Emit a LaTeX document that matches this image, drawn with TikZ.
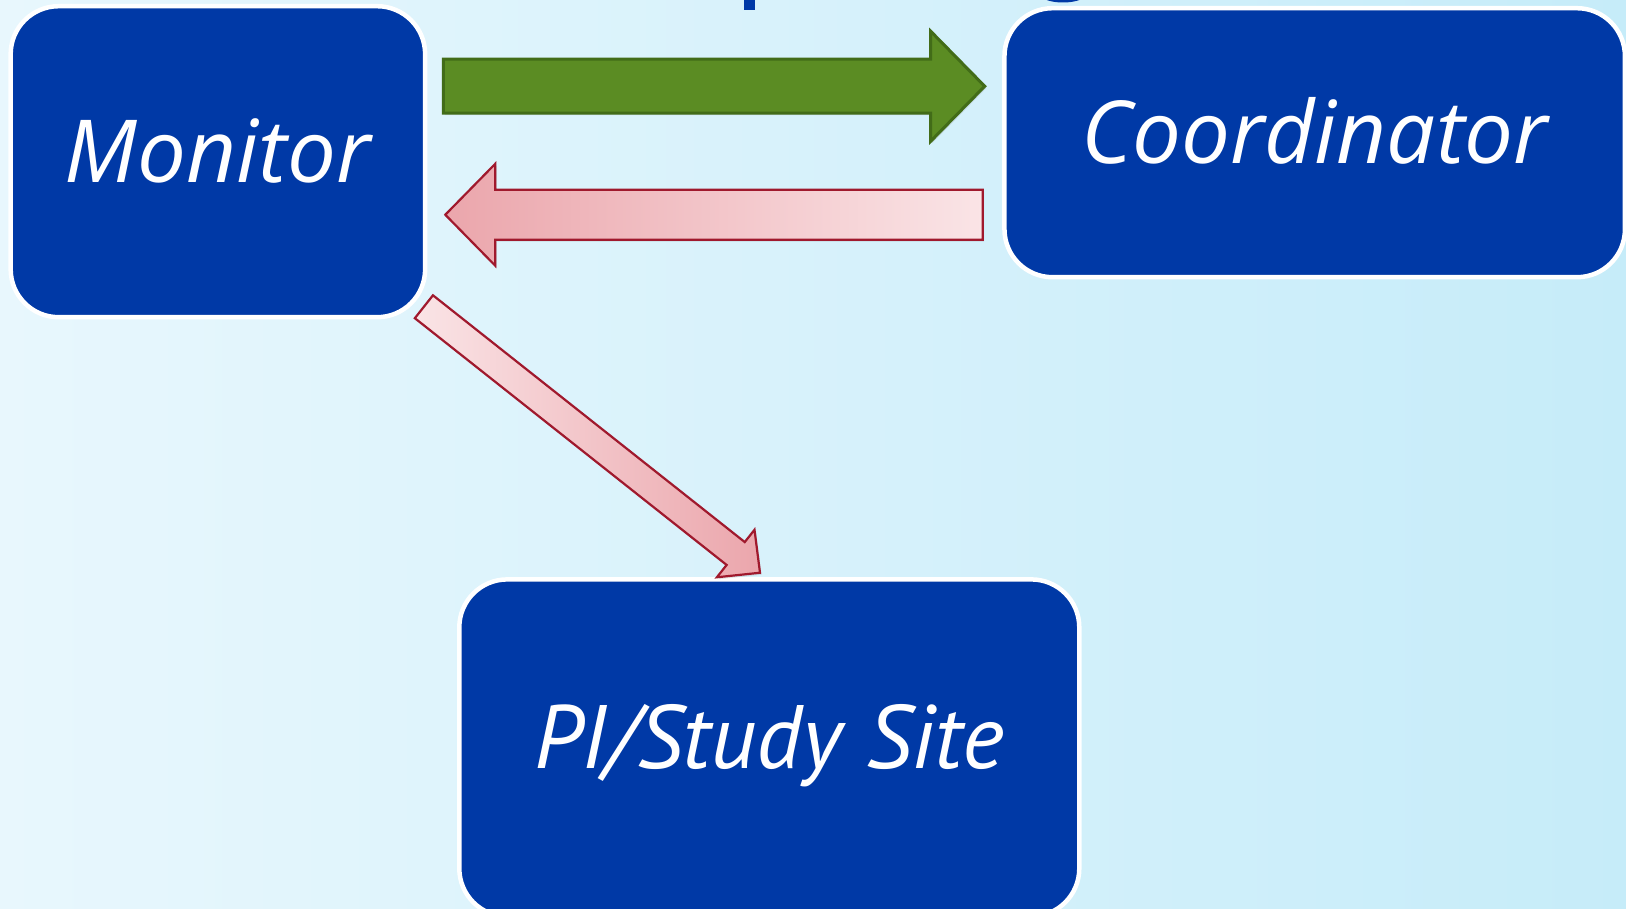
\documentclass[tikz,border=0pt]{standalone}
\usepackage{fontspec}
\setmainfont{PT Sans}
\newfontfamily\widefont{Open Sans}
\usetikzlibrary{calc,shadows}
\definecolor{boxblue}{RGB}{0,57,166}
\definecolor{bgleft}{RGB}{232,247,253}
\definecolor{bgright}{RGB}{198,236,249}
\definecolor{arrowgreen}{RGB}{91,140,35}
\definecolor{arrowgreenline}{RGB}{66,108,24}
\definecolor{arrowred}{RGB}{160,25,45}
\definecolor{pinkdark}{RGB}{235,166,172}
\definecolor{pinklight}{RGB}{250,228,230}
\tikzset{
	role/.style={rectangle, rounded corners=48pt, fill=boxblue, draw=white, line width=4.5pt,
		text=white, font=\itshape\fontsize{90}{100}\selectfont, text height=63pt, text depth=22pt},
	widerole/.style={role, font=\widefont\itshape\fontsize{87}{100}\selectfont},
	fwdarrow/.style={fill=arrowgreen, draw=arrowgreenline, line width=3pt,
		drop shadow={shadow xshift=1.5pt, shadow yshift=-2pt, opacity=0.2}},
	backarrow/.style={left color=pinkdark, right color=pinklight, draw=arrowred, line width=2.2pt,
		drop shadow={shadow xshift=1.5pt, shadow yshift=-2pt, opacity=0.2}},
	downarrow/.style={left color=pinklight, right color=pinkdark, draw=arrowred, line width=2.2pt,
		drop shadow={shadow xshift=1.5pt, shadow yshift=-2pt, opacity=0.2}},
}
% block arrow from tail (#2) to tip (#3), shaft half width : head half width : head length
\def\blockarrow[#1](#2)(#3)(#4:#5:#6){%
	\coordinate (ba-n) at ($(#3)!#6pt!(#2)$);
	\draw[#1] ($(#2)!#4pt!90:(#3)$) -- ($(ba-n)!#4pt!-90:(#2)$) -- ($(ba-n)!#5pt!-90:(#2)$) -- (#3)
		-- ($(ba-n)!#5pt!90:(#2)$) -- ($(ba-n)!#4pt!90:(#2)$) -- ($(#2)!#4pt!-90:(#3)$) -- cycle;}

\begin{document}
\begin{tikzpicture}[x=1pt, y=-1pt]
			%%%%% START %%%%%
			
			\useasboundingbox (0, 0) rectangle (1626, 909);
			\clip (0, 0) rectangle (1626, 909);
			\shade[left color=bgleft, right color=bgright] (0, 0) rectangle (1626, 909);
			
			% bits of the cut-off title
			\fill[boxblue] (744, -2) rectangle (755, 10);
			\draw[boxblue, line width=2.5pt] (1042, -4) .. controls (1050, 3) and (1076, 3) .. (1084, -4);
			
			\node[widerole, minimum width=414.5pt, minimum height=311pt] (monitor) at (217.9, 161.7) {Monitor};
			\node[widerole, minimum width=620.5pt, minimum height=269pt] (coord) at (1314.7, 142.7) {Coordinator};
			\node[role, minimum width=620pt, minimum height=337pt] (site) at (769.3, 747.9) {PI/Study Site};
			
			\coordinate (fwdtail) at ($(monitor.north east)+(16, 82.3)$);
			\coordinate (fwdtip) at ($(coord.north west)+(-17.5, 80.3)$);
			\coordinate (backtail) at ($(coord.north west)+(-19.5, 208.8)$);
			\coordinate (backtip) at ($(monitor.north east)+(17.9, 210.8)$);
			\coordinate (downtail) at ($(monitor.south east)+(-3.5, -12.7)$);
			\coordinate (downtip) at ($(site.north)+(-9.3, -4.4)$);
			
			\blockarrow[fwdarrow](fwdtail)(fwdtip)(27:55:54)
			\blockarrow[backarrow](backtail)(backtip)(25:51:50)
			\blockarrow[downarrow](downtail)(downtip)(14.6:30.3:31)
			
			%%%%% END %%%%%
\end{tikzpicture}
\end{document}
